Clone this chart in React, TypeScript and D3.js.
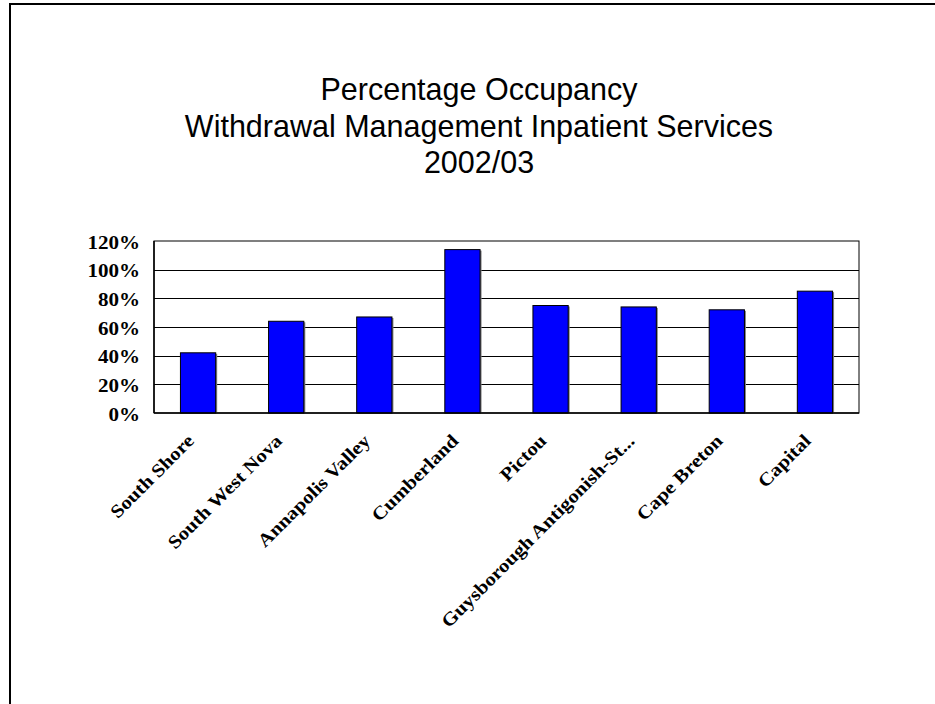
import React from "react";
import * as d3 from "d3";

const titleLines = [
  "Percentage Occupancy",
  "Withdrawal Management Inpatient Services",
  "2002/03",
];
const categories = [
  "South Shore",
  "South West Nova",
  "Annapolis Valley",
  "Cumberland",
  "Pictou",
  "Guysborough Antigonish-St...",
  "Cape Breton",
  "Capital",
];
const values = [42, 64, 67, 114, 75, 74, 72, 85];
const yTicks = [0, 20, 40, 60, 80, 100, 120];

export default function App() {
  const W = 935;
  const H = 704;
  const left = 154;
  const right = 859;
  const top = 241;
  const bottom = 413;

  const x = d3.scaleBand<string>().domain(categories).range([left, right]).paddingInner(0.6).paddingOuter(0.3);
  const y = d3.scaleLinear().domain([0, 120]).range([bottom, top]);
  const fmt = (v: number) => `${v}%`;

  return (
    <svg
      width={W}
      height={H}
      style={{ position: "absolute", left: 0, top: 0, display: "block", background: "#fff" }}
    >
      <rect x={0} y={0} width={W} height={H} fill="#fff" />
      {/* outer frame */}
      <path d={`M10,${H + 5} L10,4 L${W + 5},4`} fill="none" stroke="#000" strokeWidth={2} />

      {/* title */}
      <g fontFamily="'Liberation Sans', Arial, sans-serif" fontSize={30.5} fill="#000" textAnchor="middle">
        {titleLines.map((t, i) => (
          <text key={i} x={479} y={100 + i * 36.5}>
            {t}
          </text>
        ))}
      </g>

      {/* plot area */}
      <rect x={left} y={top} width={right - left} height={bottom - top} fill="#fff" stroke="#000" strokeWidth={1} />
      {yTicks.slice(1, -1).map((t) => (
        <line key={t} x1={left} x2={right} y1={Math.round(y(t)) + 0.5} y2={Math.round(y(t)) + 0.5} stroke="#000" strokeWidth={1} />
      ))}

      {/* bars */}
      {categories.map((c, i) => {
        const bx = x(c)!;
        const bw = x.bandwidth();
        const by = y(values[i]);
        return (
          <g key={c}>
            <rect x={bx + 1.5} y={by + 1} width={bw} height={bottom - by - 1} fill="#808080" />
            <rect x={bx} y={by} width={bw} height={bottom - by} fill="#0000FF" stroke="#000" strokeWidth={1} />
          </g>
        );
      })}
      <line x1={left} x2={right} y1={bottom} y2={bottom} stroke="#000" strokeWidth={1.5} />
      <line x1={left} x2={left} y1={top} y2={bottom} stroke="#000" strokeWidth={1.5} />

      {/* y labels */}
      <g fontFamily="'Liberation Serif', 'Times New Roman', serif" fontWeight="bold" fontSize={19.5} fill="#000" textAnchor="end">
        {yTicks.map((t) => (
          <text key={t} transform={`translate(140,${y(t) + 7.5}) scale(1.08,1)`}>
            {fmt(t)}
          </text>
        ))}
      </g>

      {/* x labels */}
      <g fontFamily="'Liberation Serif', 'Times New Roman', serif" fontWeight="bold" fontSize={18.5} fill="#000" textAnchor="end">
        {categories.map((c) => {
          const cx = x(c)! + x.bandwidth() / 2;
          return (
            <text key={c} transform={`translate(${cx - 3},442) rotate(-45) scale(1.13,1)`}>
              {c}
            </text>
          );
        })}
      </g>
    </svg>
  );
}
